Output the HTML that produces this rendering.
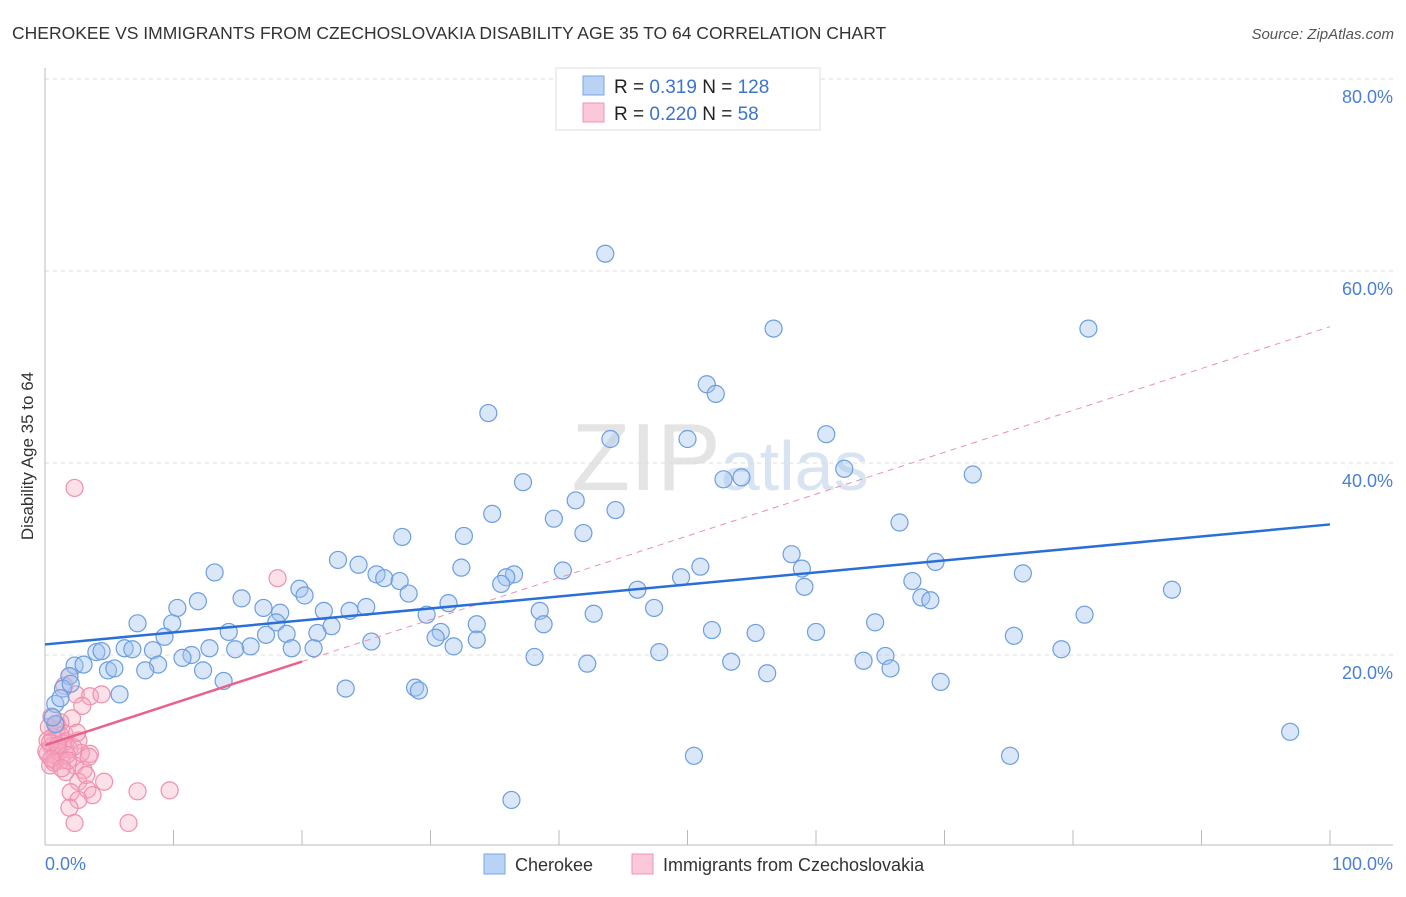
<!DOCTYPE html>
<html><head><meta charset="utf-8"><style>
body{margin:0;background:#fff;font-family:"Liberation Sans",sans-serif;}
svg text{font-family:"Liberation Sans",sans-serif;}
</style></head><body>
<svg id="chart" width="1406" height="892" viewBox="0 0 1406 892" xmlns="http://www.w3.org/2000/svg">
<text x="12" y="39" font-size="17.5" fill="#333">CHEROKEE VS IMMIGRANTS FROM CZECHOSLOVAKIA DISABILITY AGE 35 TO 64 CORRELATION CHART</text>
<text x="1394" y="39" font-size="15" fill="#555" text-anchor="end" font-style="italic">Source: ZipAtlas.com</text>
<text x="720" y="490" font-size="96" fill="#e4e4e4" text-anchor="middle" font-family="Liberation Serif"><tspan>ZIP</tspan><tspan font-family="Liberation Sans" font-size="70" fill="#d8e4f2">atlas</tspan></text>
<text transform="translate(33,456) rotate(-90)" font-size="17" fill="#333" text-anchor="middle">Disability Age 35 to 64</text>
<g id="grid"></g><g id="axes"></g><g id="pink"></g><g id="blue"></g><g id="lines"></g>
<g>
<rect x="556" y="68" width="264" height="62" fill="#fff" stroke="#ddd"/>
<rect x="583" y="76" width="21" height="19" fill="#b9d3f5" stroke="#7aa6e6"/>
<rect x="583" y="103" width="21" height="19" fill="#fbc8d7" stroke="#ef95b3"/>
<text x="614" y="93" font-size="19" fill="#222">R = <tspan fill="#3a74d0"> 0.319</tspan>   N = <tspan fill="#3a74d0">128</tspan></text>
<text x="614" y="120" font-size="19" fill="#222">R = <tspan fill="#3a74d0">0.220</tspan>   N = <tspan fill="#3a74d0">  58</tspan></text>
</g>
<g>
<rect x="484" y="854" width="21" height="20" fill="#b9d3f5" stroke="#7aa6e6"/>
<text x="515" y="871" font-size="18" fill="#333">Cherokee</text>
<rect x="632" y="854" width="21" height="20" fill="#fbc8d7" stroke="#ef95b3"/>
<text x="663" y="871" font-size="18" fill="#333">Immigrants from Czechoslovakia</text>
</g>
</svg>
<script>
const yTicks=[20,40,60,80];
const xLabels=["0.0%","100.0%"];
const blueX=[43.6,56.7,81.2,51.5,52.2,34.5,60.8,44.0,50.0,62.2,52.8,54.2,72.2,37.2,41.3,44.4,34.8,39.6,66.5,32.6,41.9,27.8,58.1,22.8,24.4,51.0,69.3,32.4,13.2,58.9,25.8,40.3,76.1,36.5,49.5,35.9,26.4,27.6,67.5,35.5,19.8,46.1,59.1,87.7,20.2,28.3,15.3,11.9,68.2,68.9,31.4,25.0,17.0,10.3,47.4,38.5,21.7,23.7,18.3,42.7,80.9,29.7,7.2,64.6,9.9,22.3,38.8,33.6,18.0,14.3,51.9,60.0,55.3,30.8,21.2,18.8,17.2,9.3,30.4,75.4,33.6,25.4,31.8,16.0,12.8,14.8,19.2,20.9,6.2,6.8,8.4,4.0,4.4,47.8,79.1,65.4,11.4,10.7,38.1,63.7,53.4,8.8,65.8,42.2,2.3,3.0,4.9,5.4,12.3,7.8,56.2,1.9,13.9,69.7,23.4,28.8,29.1,1.4,5.8,0.8,96.9,0.8,50.5,75.1,36.3,0.6,1.2,2.0];
const blueY=[61.8,54.0,54.0,48.2,47.2,45.2,43.0,42.5,42.5,39.4,38.3,38.5,38.8,38.0,36.1,35.1,34.7,34.2,33.8,32.4,32.7,32.3,30.5,29.9,29.4,29.2,29.7,29.1,28.6,29.0,28.4,28.8,28.5,28.4,28.1,28.1,28.0,27.7,27.7,27.4,26.9,26.8,27.1,26.8,26.2,26.4,25.9,25.6,26.0,25.7,25.4,25.0,24.9,24.9,24.9,24.6,24.6,24.6,24.4,24.3,24.2,24.2,23.3,23.4,23.3,23.0,23.2,23.2,23.4,22.4,22.6,22.4,22.3,22.4,22.3,22.2,22.1,21.9,21.8,22.0,21.6,21.4,20.9,20.9,20.7,20.6,20.7,20.7,20.7,20.6,20.5,20.3,20.4,20.3,20.6,19.9,20.0,19.7,19.8,19.4,19.3,19.0,18.6,19.1,18.9,19.0,18.4,18.6,18.4,18.4,18.1,17.8,17.3,17.2,16.5,16.6,16.3,16.5,15.9,14.9,12.0,12.8,9.5,9.5,4.9,13.5,15.5,17.0];
const pinkX=[2.3,18.1,1.9,1.5,2.4,3.5,4.4,2.9,0.5,2.1,1.2,0.9,1.5,2.6,0.2,0.5,1.0,1.9,3.5,0.2,0.8,1.3,2.3,0.4,1.6,3.0,4.6,2.6,3.3,7.2,9.7,3.7,2.0,2.6,1.9,6.5,2.3,1.2,1.6,0.8,0.1,0.6,1.4,2.8,3.4,0.3,1.1,2.2,0.7,1.7,0.4,3.2,1.0,0.5,2.5,1.8,0.9,1.3];
const pinkY=[37.4,28.0,17.8,16.8,15.9,15.7,15.9,14.7,13.6,13.4,13.0,12.2,11.8,11.1,11.1,10.5,10.2,10.2,9.7,9.7,9.5,9.0,8.5,8.5,7.8,8.0,6.8,6.8,6.0,5.8,5.9,5.4,5.7,4.9,4.1,2.5,2.5,11.6,11.0,9.0,10.0,11.5,10.8,9.8,9.4,12.5,9.9,10.4,8.8,9.6,10.9,7.5,10.6,9.2,11.9,9.0,12.8,8.2];
const blueTrend=[21.1,33.6];
const pinkTrend=[10.6,54.2];
const pinkSolidEnd=20;
const NS="http://www.w3.org/2000/svg";
const X0=45,X1=1330,Y0=847,YS=9.6;
const sx=v=>X0+(X1-X0)*v/100, sy=v=>Y0-v*YS;
function mk(tag,attrs,parent){const e=document.createElementNS(NS,tag);for(const k in attrs)e.setAttribute(k,attrs[k]);document.getElementById(parent).appendChild(e);return e;}
yTicks.forEach(t=>{
 const l=mk('line',{x1:45,x2:1393,y1:sy(t),y2:sy(t),stroke:'#ddd','stroke-dasharray':'4,4'},'grid');
 
 
 const tx=mk('text',{x:1393,y:sy(t)+24,'font-size':18,fill:'#4a7fd4','text-anchor':'end'},'grid');
 tx.textContent=t.toFixed(1)+'%';
 
 
});
const ax=mk('line',{x1:45,x2:45,y1:68,y2:845,stroke:'#bbb'},'axes');


const bx=mk('line',{x1:45,x2:1393,y1:845,y2:845,stroke:'#bbb'},'axes');


for(let i=1;i<=10;i++){const t=mk('line',{x1:sx(i*10),x2:sx(i*10),y1:830,y2:845,stroke:'#bbb'},'axes');
 
 }
[[0,45,'start'],[1,1393,'end']].forEach(([i,x,a])=>{const t=mk('text',{x:x,y:870,'font-size':18,fill:'#4a7fd4','text-anchor':a},'axes');t.textContent=xLabels[i];
 
 });
pinkX.forEach((v,i)=>{const c=mk('circle',{cx:sx(v),cy:sy(pinkY[i]),r:8.5,fill:'rgba(246,168,193,0.35)',stroke:'#f08fae','stroke-width':1.2},'pink');
 
 });
blueX.forEach((v,i)=>{const c=mk('circle',{cx:sx(v),cy:sy(blueY[i]),r:8.5,fill:'rgba(160,196,240,0.4)',stroke:'#6c9ee0','stroke-width':1.2},'blue');
 
 });
const pAt=v=>pinkTrend[0]+(pinkTrend[1]-pinkTrend[0])*v/100;
const l1=mk('line',{x1:sx(pinkSolidEnd),y1:sy(pAt(pinkSolidEnd)),x2:sx(100),y2:sy(pinkTrend[1]),stroke:'#ec8fae','stroke-width':1,'stroke-dasharray':'6,5'},'lines');


const l2=mk('line',{x1:sx(0),y1:sy(pinkTrend[0]),x2:sx(pinkSolidEnd),y2:sy(pAt(pinkSolidEnd)),stroke:'#e8628c','stroke-width':2.5},'lines');


const l3=mk('line',{x1:sx(0),y1:sy(blueTrend[0]),x2:sx(100),y2:sy(blueTrend[1]),stroke:'#2a6fd6','stroke-width':2.5},'lines');


</script>
</body></html>
